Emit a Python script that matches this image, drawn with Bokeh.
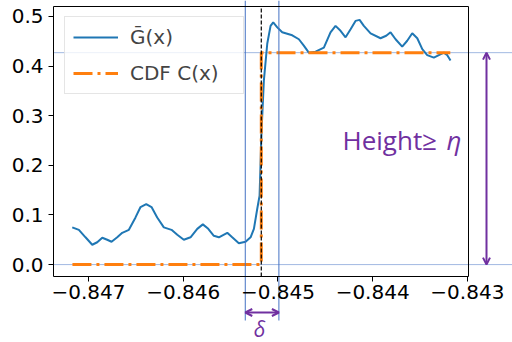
from bokeh.plotting import figure
from bokeh.models import Arrow, OpenHead, Label, Range1d, FixedTicker, LinearAxis
from bokeh.embed import file_html
from bokeh.resources import INLINE

# ---- data ----
g_x = [-0.847172, -0.847102, -0.847032, -0.846961, -0.846908, -0.846855, -0.846803,
       -0.846757, -0.846697, -0.846644, -0.846574, -0.846504, -0.846451, -0.846391,
       -0.846335, -0.846275, -0.846205, -0.846124, -0.846063, -0.845994, -0.845923,
       -0.845852, -0.845793, -0.845736, -0.845677, -0.845624, -0.845535, -0.845483,
       -0.845413, -0.845342, -0.845289, -0.845254, -0.845219, -0.845194, -0.845173,
       -0.845149, -0.845113, -0.845078, -0.845050, -0.845007, -0.844955, -0.844849,
       -0.844779, -0.844727, -0.844674, -0.844603, -0.844515, -0.844445, -0.844392,
       -0.844339, -0.844286, -0.844233, -0.844181, -0.844138, -0.844093, -0.844022,
       -0.843917, -0.843857, -0.843811, -0.843758, -0.843688, -0.843635, -0.843582,
       -0.843529, -0.843476, -0.843424, -0.843354, -0.843301, -0.843248, -0.843212,
       -0.843178]
g_y = [0.075, 0.070, 0.055, 0.040, 0.045, 0.054, 0.050,
       0.046, 0.055, 0.064, 0.070, 0.095, 0.116, 0.122,
       0.116, 0.095, 0.075, 0.070, 0.060, 0.050, 0.055,
       0.072, 0.081, 0.072, 0.058, 0.055, 0.064, 0.055,
       0.043, 0.046, 0.055, 0.072, 0.112, 0.139, 0.270,
       0.370, 0.445, 0.481, 0.488, 0.478, 0.468, 0.462,
       0.454, 0.441, 0.427, 0.429, 0.437, 0.468, 0.481,
       0.471, 0.458, 0.474, 0.491, 0.493, 0.481, 0.466,
       0.456, 0.461, 0.468, 0.454, 0.439, 0.451, 0.466,
       0.456, 0.434, 0.422, 0.417, 0.422, 0.427, 0.422,
       0.411]

cdf_x = [-0.84717, -0.845176, -0.845176, -0.84318]
cdf_y = [0.0, 0.0, 0.427, 0.427]

x_ticks = [-0.847, -0.846, -0.845, -0.844, -0.843]
x_tick_labels = ["\u22120.847", "\u22120.846", "\u22120.845", "\u22120.844", "\u22120.843"]
y_ticks = [0.0, 0.1, 0.2, 0.3, 0.4, 0.5]
y_tick_labels = ["0.0", "0.1", "0.2", "0.3", "0.4", "0.5"]

step_x = -0.845176
delta_left = -0.845345
delta_right = -0.844990
eta_level = 0.427

BLUE = "#1f77b4"
ORANGE = "#ff7f0e"
LINEBLUE = "#4472c4"
PURPLE = "#7030a0"

# ---- layout: axes box inside a full-canvas frame ----
W, H = 512, 342
BOX_L, BOX_R, BOX_T, BOX_B = 53, 468, 6, 276
X0, X1 = -0.84737, -0.842988
Y0, Y1 = -0.024, 0.520
sx = (BOX_R - BOX_L) / (X1 - X0)
sy = (BOX_B - BOX_T) / (Y1 - Y0)
XMIN = X0 - BOX_L / sx
XMAX = X1 + (W - BOX_R) / sx
YMAX = Y1 + BOX_T / sy
YMIN = Y0 - (H - BOX_B) / sy

def ypx(py):
    return Y1 - (py - BOX_T) / sy

def xpx(px):
    return X0 + (px - BOX_L) / sx

p = figure(width=W, height=H, output_backend="svg", toolbar_location=None,
           x_range=Range1d(XMIN, XMAX), y_range=Range1d(YMIN, YMAX),
           x_axis_type=None, y_axis_type=None,
           min_border_left=0, min_border_right=0, min_border_top=0, min_border_bottom=0)
p.background_fill_color = "white"
p.border_fill_color = "white"
p.outline_line_color = None
p.grid.visible = False

xaxis = LinearAxis(fixed_location=Y0, bounds=(X0, X1), ticker=FixedTicker(ticks=x_ticks))
xaxis.major_label_overrides = {t: l for t, l in zip(x_ticks, x_tick_labels)}
yaxis = LinearAxis(fixed_location=X0, bounds=(Y0, Y1), ticker=FixedTicker(ticks=y_ticks))
yaxis.major_label_overrides = {t: l for t, l in zip(y_ticks, y_tick_labels)}
for ax in (xaxis, yaxis):
    ax.major_label_text_font = "DejaVu Sans"
    ax.major_label_text_font_size = "20px"
    ax.major_label_text_color = "black"
    ax.major_tick_out = 5
    ax.major_tick_in = 0
    ax.minor_tick_line_color = None
    ax.axis_line_color = "black"
    ax.major_tick_line_color = "black"
xaxis.major_label_standoff = 3
yaxis.major_label_standoff = 5
p.add_layout(xaxis, "below")
p.add_layout(yaxis, "left")
top_sp = LinearAxis(fixed_location=Y1, bounds=(X0, X1), ticker=FixedTicker(ticks=[]),
                    axis_line_color="black", minor_tick_line_color=None)
right_sp = LinearAxis(fixed_location=X1, bounds=(Y0, Y1), ticker=FixedTicker(ticks=[]),
                      axis_line_color="black", minor_tick_line_color=None)
p.add_layout(top_sp, "above")
p.add_layout(right_sp, "right")

# dotted horizontal lines extending to the right edge
p.segment(x0=[X0, X0], y0=[eta_level, 0.0], x1=[XMAX, XMAX], y1=[eta_level, 0.0],
          line_color=LINEBLUE, line_width=1, line_dash="1 1")

# curve and CDF
p.line(g_x, g_y, line_color=BLUE, line_width=2, legend_label="\u1e20(x)")
p.line(cdf_x, cdf_y, line_color=ORANGE, line_width=3, line_dash="19 5 3 5",
       legend_label="CDF C(x)")

# black dashed vertical line at the step (inside the axes box)
p.segment(x0=[step_x], y0=[Y0], x1=[step_x], y1=[Y1], line_color="black",
          line_dash="4 2", line_width=1.2)

# blue delta bounds
p.segment(x0=[delta_left, delta_right], y0=[YMAX, YMAX],
          x1=[delta_left, delta_right], y1=[ypx(320), ypx(320)],
          line_color=LINEBLUE, line_width=1)

# height arrow
x_arrow = xpx(486)
p.add_layout(Arrow(x_start=x_arrow, y_start=0.0, x_end=x_arrow, y_end=eta_level,
                   start=OpenHead(size=7, line_color=PURPLE, line_width=2),
                   end=OpenHead(size=7, line_color=PURPLE, line_width=2),
                   line_color=PURPLE, line_width=2))
# delta arrow
p.add_layout(Arrow(x_start=delta_left, y_start=ypx(312), x_end=delta_right, y_end=ypx(312),
                   start=OpenHead(size=7, line_color=PURPLE, line_width=2),
                   end=OpenHead(size=7, line_color=PURPLE, line_width=2),
                   line_color=PURPLE, line_width=2))

p.add_layout(Label(x=xpx(342), y=ypx(139), text="Height\u2265", text_font="Open Sans",
                   text_font_size="26px", text_color=PURPLE, text_baseline="alphabetic"))
p.add_layout(Label(x=xpx(446), y=ypx(139), text="\u03b7", text_font="Open Sans",
                   text_font_size="26px", text_font_style="italic", text_color=PURPLE,
                   text_baseline="alphabetic"))
p.add_layout(Label(x=xpx(259), y=ypx(328), text="\u03b4", text_font="Open Sans",
                   text_font_size="21px", text_font_style="italic", text_color=PURPLE,
                   text_baseline="middle", text_align="center"))

lg = p.legend[0]
lg.location = (64, H - 18 - 76)
lg.margin = 0
lg.padding = 8
lg.spacing = 12
lg.glyph_width = 45
lg.glyph_height = 24
lg.label_height = 24
lg.label_standoff = 12
lg.label_width = 105
lg.label_text_font = "DejaVu Sans"
lg.label_text_font_size = "20px"
lg.border_line_color = "#cccccc"
lg.border_line_width = 1
lg.background_fill_alpha = 0.8

open("out.html", "w").write(file_html(p, INLINE))
